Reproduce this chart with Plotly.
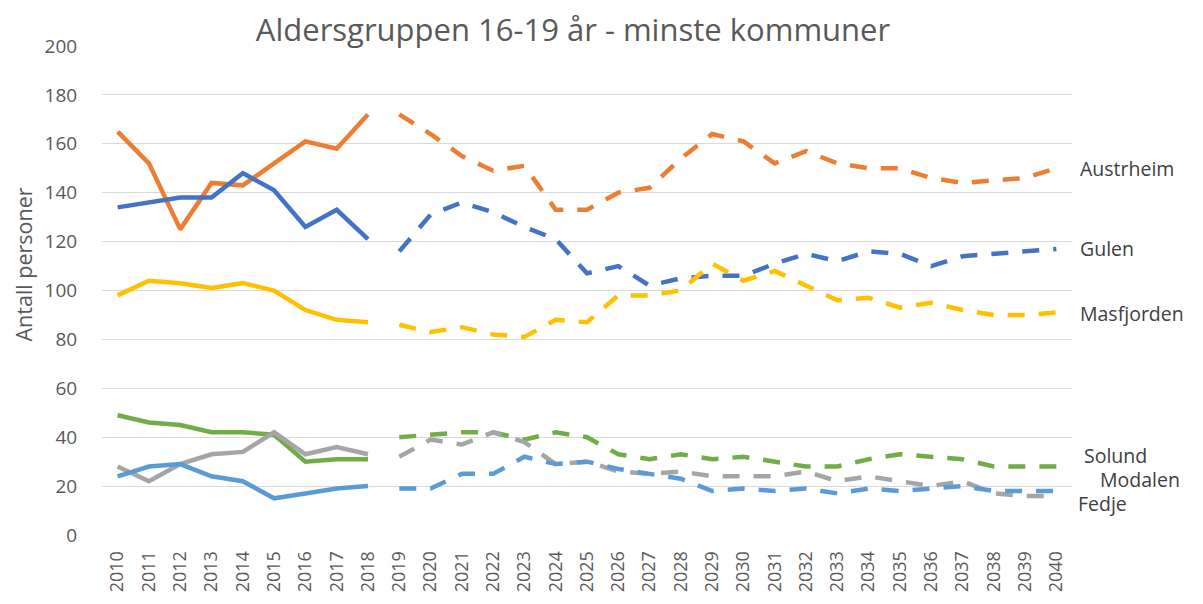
import plotly.graph_objects as go

years_hist = list(range(2010, 2019))
years_proj = list(range(2019, 2041))

names = ["Austrheim", "Gulen", "Masfjorden", "Solund", "Modalen", "Fedje"]
colors = ["#ED7D31", "#4472C4", "#FFC000", "#70AD47", "#A5A5A5", "#5B9BD5"]

austrheim_hist = [165, 152, 125, 144, 143, 152, 161, 158, 172]
austrheim_proj = [172, 164, 155, 149, 151, 133, 133, 140, 142, 154, 164, 161, 152, 157, 152, 150, 150, 146, 144, 145, 146, 150]

gulen_hist = [134, 136, 138, 138, 148, 141, 126, 133, 121]
gulen_proj = [116, 131, 136, 132, 126, 121, 107, 110, 102, 105, 106, 106, 111, 115, 112, 116, 115, 110, 114, 115, 116, 117]

masfjorden_hist = [98, 104, 103, 101, 103, 100, 92, 88, 87]
masfjorden_proj = [86, 83, 85, 82, 81, 88, 87, 98, 98, 100, 111, 104, 108, 102, 96, 97, 93, 95, 92, 90, 90, 91]

solund_hist = [49, 46, 45, 42, 42, 41, 30, 31, 31]
solund_proj = [40, 41, 42, 42, 39, 42, 40, 33, 31, 33, 31, 32, 30, 28, 28, 31, 33, 32, 31, 28, 28, 28]

modalen_hist = [28, 22, 29, 33, 34, 42, 33, 36, 33]
modalen_proj = [32, 39, 37, 42, 38, 29, 30, 26, 25, 26, 24, 24, 24, 26, 22, 24, 22, 20, 22, 17, 16, 16]

fedje_hist = [24, 28, 29, 24, 22, 15, 17, 19, 20]
fedje_proj = [19, 19, 25, 25, 32, 29, 30, 27, 25, 23, 18, 19, 18, 19, 17, 19, 18, 19, 20, 18, 18, 18]

hist = [austrheim_hist, gulen_hist, masfjorden_hist, solund_hist, modalen_hist, fedje_hist]
proj = [austrheim_proj, gulen_proj, masfjorden_proj, solund_proj, modalen_proj, fedje_proj]

label_y = [150, 117, 90.4, 32.5, 22.5, 13]
label_x = [1.006, 1.006, 1.006, 1.010, 1.027, 1.004]

title_text = "Aldersgruppen 16-19 år - minste kommuner"
y_title = "Antall personer"

fig = go.Figure()
for name, col, h, p in zip(names, colors, hist, proj):
    fig.add_trace(go.Scatter(x=years_hist, y=h, mode="lines", name=name,
                             line=dict(color=col, width=4.5), showlegend=False))
    fig.add_trace(go.Scatter(x=years_proj, y=p, mode="lines", name=name,
                             line=dict(color=col, width=4.5, dash="17px,14px"), showlegend=False))

for name, lx, ly in zip(names, label_x, label_y):
    fig.add_annotation(text=name, x=lx, y=ly, xref="paper", yref="y",
                       xanchor="left", yanchor="middle", showarrow=False,
                       font=dict(family="Open Sans", size=19.5, color="#404040"))

fig.add_annotation(text=y_title, x=-0.0805, y=0.553, xref="paper", yref="paper",
                   xanchor="center", yanchor="middle", showarrow=False, textangle=-90,
                   font=dict(family="Open Sans", size=21.5, color="#595959"))

fig.update_layout(
    width=1203, height=604,
    margin=dict(l=94, r=139, t=38, b=77),
    paper_bgcolor="white", plot_bgcolor="white",
    font=dict(family="Open Sans", color="#595959"),
    title=dict(text=title_text, x=0.4856, xref="paper", xanchor="center",
               y=1 - 22 / 604, yref="container", yanchor="middle",
               font=dict(family="Open Sans", size=31, color="#595959")),
    showlegend=False,
)
fig.update_xaxes(range=[2009.5, 2040.5], tickmode="array",
                 tickvals=list(range(2010, 2041)),
                 ticktext=[str(y) for y in range(2010, 2041)],
                 tickangle=-90, tickfont=dict(size=18, color="#595959"),
                 showgrid=False, zeroline=False, showline=False, automargin=False,
                 ticks="outside", ticklen=8, tickcolor="rgba(0,0,0,0)")
fig.update_yaxes(range=[0, 200], dtick=20, showgrid=True, gridcolor="#D9D9D9",
                 gridwidth=1.3, zeroline=False, showline=False, automargin=False,
                 tickfont=dict(size=19, color="#595959"),
                 ticks="outside", ticklen=20, tickcolor="rgba(0,0,0,0)")

fig.write_html("out.html")
